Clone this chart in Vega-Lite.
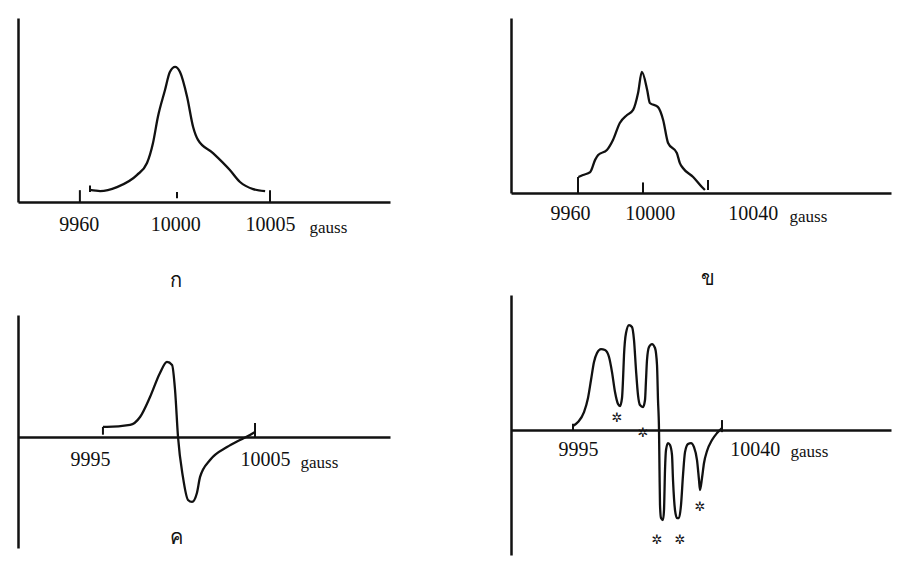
{
  "$schema": "https://vega.github.io/schema/vega-lite/v6.json",
  "background": "white",
  "padding": {"left": 18, "top": 18, "right": 4, "bottom": 4},
  "config": {
    "view": {"stroke": null},
    "font": "Liberation Serif",
    "axis": {"domainColor": "#111", "domainWidth": 2.5, "labelColor": "#111", "labelFont": "Liberation Serif", "labelFontSize": 20, "titleFont": "Liberation Serif", "titleColor": "#111", "titleFontWeight": "normal", "titleFontSize": 17, "grid": false, "labelOverlap": false, "labelFlush": false, "labelBound": false},
    "title": {"font": "Liberation Serif", "fontSize": 20, "fontWeight": "normal", "color": "#111"}
  },
  "datasets": {
    "p1": [
      {"x": 20.0, "y": 0.066}, {"x": 22.7, "y": 0.060}, {"x": 27.2, "y": 0.082}, {"x": 32.5, "y": 0.148}, {"x": 35.2, "y": 0.214}, {"x": 36.8, "y": 0.324}, {"x": 38.1, "y": 0.467}, {"x": 40.0, "y": 0.615}, {"x": 41.3, "y": 0.714}, {"x": 42.7, "y": 0.742}, {"x": 44.0, "y": 0.714}, {"x": 45.9, "y": 0.577}, {"x": 47.5, "y": 0.412}, {"x": 48.8, "y": 0.341}, {"x": 52.8, "y": 0.269}, {"x": 57.3, "y": 0.176}, {"x": 60.0, "y": 0.110}, {"x": 63.5, "y": 0.071}, {"x": 66.7, "y": 0.060}
    ],
    "t1": [
      {"x": 17.3, "y": 0, "y2": 0.065}, {"x": 43.2, "y": 0.02, "y2": 0.055}, {"x": 68.0, "y": 0, "y2": 0.065}, {"x": 20.0, "y": 0.055, "y2": 0.09}
    ],
    "p2": [
      {"x": 18.0, "y": 0.091}, {"x": 19.2, "y": 0.102}, {"x": 21.1, "y": 0.119}, {"x": 22.4, "y": 0.188}, {"x": 23.2, "y": 0.216}, {"x": 25.5, "y": 0.244}, {"x": 27.1, "y": 0.301}, {"x": 28.9, "y": 0.398}, {"x": 30.8, "y": 0.443}, {"x": 32.4, "y": 0.472}, {"x": 33.7, "y": 0.568}, {"x": 34.7, "y": 0.688}, {"x": 36.1, "y": 0.585}, {"x": 36.8, "y": 0.511}, {"x": 38.9, "y": 0.489}, {"x": 40.3, "y": 0.415}, {"x": 41.6, "y": 0.284}, {"x": 43.9, "y": 0.227}, {"x": 44.7, "y": 0.170}, {"x": 45.5, "y": 0.142}, {"x": 48.2, "y": 0.091}, {"x": 50.5, "y": 0.034}, {"x": 51.3, "y": 0.017}
    ],
    "t2": [
      {"x": 17.9, "y": 0, "y2": 0.091}, {"x": 35.0, "y": 0, "y2": 0.06}, {"x": 52.1, "y": 0.017, "y2": 0.074}
    ],
    "p3": [
      {"x": 9995.74, "y": 0.132}, {"x": 9995.97, "y": 0.132}, {"x": 9997.29, "y": 0.158}, {"x": 9997.86, "y": 0.263}, {"x": 9998.43, "y": 0.526}, {"x": 9999.0, "y": 0.842}, {"x": 9999.4, "y": 0.987}, {"x": 9999.69, "y": 0.947}, {"x": 9999.86, "y": 0.618}, {"x": 10000.03, "y": 0}, {"x": 10000.31, "y": -0.526}, {"x": 10000.6, "y": -0.829}, {"x": 10000.83, "y": -0.855}, {"x": 10001.11, "y": -0.737}, {"x": 10001.29, "y": -0.526}, {"x": 10001.86, "y": -0.303}, {"x": 10002.83, "y": -0.132}, {"x": 10003.57, "y": -0.039}, {"x": 10004.14, "y": 0.026}, {"x": 10004.43, "y": 0.066}
    ],
    "t3": [
      {"x": 9995.74, "y": 0.03, "y2": 0.132}, {"x": 10004.43, "y": 0, "y2": 0.184}
    ],
    "p4": [
      {"x": 9993.728, "y": 0.038}, {"x": 9995.0, "y": 0.076}, {"x": 9996.527, "y": 0.171}, {"x": 9997.545, "y": 0.305}, {"x": 9998.308, "y": 0.476}, {"x": 9999.071, "y": 0.648}, {"x": 9999.835, "y": 0.733}, {"x": 10000.852, "y": 0.771}, {"x": 10001.87, "y": 0.762}, {"x": 10002.888, "y": 0.695}, {"x": 10003.651, "y": 0.552}, {"x": 10004.415, "y": 0.362}, {"x": 10005.178, "y": 0.248}, {"x": 10005.687, "y": 0.229}, {"x": 10006.196, "y": 0.305}, {"x": 10006.45, "y": 0.476}, {"x": 10006.705, "y": 0.714}, {"x": 10007.214, "y": 0.924}, {"x": 10007.977, "y": 1.0}, {"x": 10008.74, "y": 0.981}, {"x": 10009.249, "y": 0.857}, {"x": 10009.758, "y": 0.571}, {"x": 10010.267, "y": 0.333}, {"x": 10010.776, "y": 0.238}, {"x": 10011.539, "y": 0.219}, {"x": 10012.048, "y": 0.286}, {"x": 10012.303, "y": 0.476}, {"x": 10012.557, "y": 0.667}, {"x": 10013.066, "y": 0.79}, {"x": 10013.83, "y": 0.819}, {"x": 10014.593, "y": 0.781}, {"x": 10015.102, "y": 0.619}, {"x": 10015.356, "y": 0.286}, {"x": 10015.611, "y": 0}, {"x": 10015.738, "y": -0.381}, {"x": 10015.865, "y": -0.714}, {"x": 10016.12, "y": -0.838}, {"x": 10016.628, "y": -0.857}, {"x": 10016.883, "y": -0.762}, {"x": 10017.137, "y": -0.381}, {"x": 10017.392, "y": -0.19}, {"x": 10017.901, "y": -0.124}, {"x": 10018.41, "y": -0.143}, {"x": 10018.919, "y": -0.238}, {"x": 10019.173, "y": -0.476}, {"x": 10019.682, "y": -0.762}, {"x": 10020.191, "y": -0.838}, {"x": 10020.7, "y": -0.838}, {"x": 10021.209, "y": -0.714}, {"x": 10021.718, "y": -0.429}, {"x": 10022.226, "y": -0.21}, {"x": 10022.99, "y": -0.133}, {"x": 10023.753, "y": -0.124}, {"x": 10024.517, "y": -0.162}, {"x": 10025.28, "y": -0.286}, {"x": 10025.789, "y": -0.476}, {"x": 10026.043, "y": -0.571}, {"x": 10026.552, "y": -0.457}, {"x": 10027.061, "y": -0.314}, {"x": 10027.824, "y": -0.2}, {"x": 10029.097, "y": -0.095}, {"x": 10030.369, "y": -0.029}, {"x": 10031.641, "y": 0.019}
    ],
    "t4": [
      {"x": 10031.64, "y": -0.02, "y2": 0.095}, {"x": 9993.728, "y": 0.0, "y2": 0.06}
    ],
    "s4": [
      {"x": 10004.92, "y": 0.114, "s": "✲"}, {"x": 10011.54, "y": -0.029, "s": "✲"}, {"x": 10026.04, "y": -0.733, "s": "✲"}, {"x": 10015.1, "y": -1.05, "s": "✲"}, {"x": 10020.95, "y": -1.05, "s": "✲"}
    ]
  },
  "bounds": "full",
  "spacing": 121,
  "hconcat": [
    {
      "bounds": "flush",
      "spacing": 113,
      "vconcat": [
        {
          "width": 372, "height": 184,
          "title": {"text": "ก", "orient": "bottom", "anchor": "start", "dx": 152, "offset": 36},
          "encoding": {
            "x": {"field": "x", "type": "quantitative", "scale": {"domain": [0.8, 100], "nice": false, "zero": false},
              "axis": {"title": "gauss", "values": [17.0, 42.7, 68.0], "labelExpr": "datum.value < 30 ? '9960' : datum.value < 55 ? '10000' : '10005'", "ticks": false, "tickSize": 0, "labelPadding": 12, "titleX": 291, "titleY": 30, "titleAlign": "left", "titleBaseline": "alphabetic"}},
            "y": {"field": "y", "type": "quantitative", "scale": {"domain": [0, 1.011], "nice": false, "zero": false},
              "axis": {"title": null, "labels": false, "ticks": false}}
          },
          "layer": [
            {"data": {"name": "p1"}, "mark": {"type": "line", "color": "#111", "strokeWidth": 2.3, "interpolate": "monotone"}},
            {"data": {"name": "t1"}, "mark": {"type": "rule", "color": "#111", "strokeWidth": 2}, "encoding": {"y2": {"field": "y2"}}}
          ]
        },
        {
          "width": 372, "height": 233,
          "title": {"text": "ค", "orient": "bottom", "anchor": "start", "dx": 152, "offset": -20},
          "encoding": {
            "x": {"field": "x", "type": "quantitative", "scale": {"domain": [9990.886, 10012.143], "nice": false, "zero": false},
              "axis": {"title": "gauss", "values": [9995, 10005], "format": "d", "ticks": false, "tickSize": 0, "labelPadding": 12, "offset": -111, "titleX": 282, "titleY": 30, "titleAlign": "left", "titleBaseline": "alphabetic"}},
            "y": {"field": "y", "type": "quantitative", "scale": {"domain": [-1.461, 1.605], "nice": false, "zero": false},
              "axis": {"title": null, "labels": false, "ticks": false}}
          },
          "layer": [
            {"data": {"name": "p3"}, "mark": {"type": "line", "color": "#111", "strokeWidth": 2.3, "interpolate": "monotone"}},
            {"data": {"name": "t3"}, "mark": {"type": "rule", "color": "#111", "strokeWidth": 2}, "encoding": {"y2": {"field": "y2"}}}
          ]
        }
      ]
    },
    {
      "bounds": "flush",
      "spacing": 102,
      "vconcat": [
        {
          "width": 380, "height": 175,
          "title": {"text": "ข", "orient": "bottom", "anchor": "start", "dx": 190, "offset": 45},
          "encoding": {
            "x": {"field": "x", "type": "quantitative", "scale": {"domain": [0.263, 100.263], "nice": false, "zero": false},
              "axis": {"title": "gauss", "values": [15.8, 36.8, 63.9], "labelExpr": "datum.value < 25 ? '9960' : datum.value < 50 ? '10000' : '10040'", "ticks": false, "tickSize": 0, "labelPadding": 10, "titleX": 278, "titleY": 28, "titleAlign": "left", "titleBaseline": "alphabetic"}},
            "y": {"field": "y", "type": "quantitative", "scale": {"domain": [0, 0.994], "nice": false, "zero": false},
              "axis": {"title": null, "labels": false, "ticks": false}}
          },
          "layer": [
            {"data": {"name": "p2"}, "mark": {"type": "line", "color": "#111", "strokeWidth": 2.3, "interpolate": "monotone"}},
            {"data": {"name": "t2"}, "mark": {"type": "rule", "color": "#111", "strokeWidth": 2}, "encoding": {"y2": {"field": "y2"}}}
          ]
        },
        {
          "width": 380, "height": 260,
          "encoding": {
            "x": {"field": "x", "type": "quantitative", "scale": {"domain": [9977.95, 10074.64], "nice": false, "zero": false},
              "axis": {"title": "gauss", "values": [9995, 10040], "format": "d", "ticks": false, "tickSize": 0, "labelPadding": 9, "offset": -125, "titleX": 279, "titleY": 26, "titleAlign": "left", "titleBaseline": "alphabetic"}},
            "y": {"field": "y", "type": "quantitative", "scale": {"domain": [-1.19, 1.286], "nice": false, "zero": false},
              "axis": {"title": null, "labels": false, "ticks": false}}
          },
          "layer": [
            {"data": {"name": "p4"}, "mark": {"type": "line", "color": "#111", "strokeWidth": 2.3, "interpolate": "monotone"}},
            {"data": {"name": "t4"}, "mark": {"type": "rule", "color": "#111", "strokeWidth": 2}, "encoding": {"y2": {"field": "y2"}}},
            {"data": {"name": "s4"}, "mark": {"type": "text", "color": "#111", "fontSize": 13, "font": "DejaVu Sans"}, "encoding": {"text": {"field": "s"}}}
          ]
        }
      ]
    }
  ]
}
